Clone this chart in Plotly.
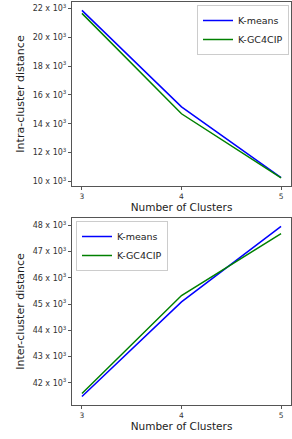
import plotly.graph_objects as go

clusters = [3, 4, 5]
intra_kmeans = [21860, 15170, 10260]
intra_kgc4cip = [21650, 14690, 10250]
inter_kmeans = [41480, 45080, 47950]
inter_kgc4cip = [41600, 45320, 47680]

intra_ticks = [10000, 12000, 14000, 16000, 18000, 20000, 22000]
inter_ticks = [42000, 43000, 44000, 45000, 46000, 47000, 48000]

def tlabel(v):
    return f"{v // 1000} x 10<sup>3</sup>"

W, H = 292, 439
fig = go.Figure()

blue = "#0000ff"
green = "#008000"

fig.add_trace(go.Scatter(x=clusters, y=intra_kmeans, mode="lines", name="K-means",
                         line=dict(color=blue, width=1.5), xaxis="x", yaxis="y", legend="legend"))
fig.add_trace(go.Scatter(x=clusters, y=intra_kgc4cip, mode="lines", name="K-GC4CIP",
                         line=dict(color=green, width=1.5), xaxis="x", yaxis="y", legend="legend"))
fig.add_trace(go.Scatter(x=clusters, y=inter_kmeans, mode="lines", name="K-means",
                         line=dict(color=blue, width=1.5), xaxis="x2", yaxis="y2", legend="legend2"))
fig.add_trace(go.Scatter(x=clusters, y=inter_kgc4cip, mode="lines", name="K-GC4CIP",
                         line=dict(color=green, width=1.5), xaxis="x2", yaxis="y2", legend="legend2"))

def px_x(p):
    return p / W

def px_y(p):
    return 1 - p / H

ytickfont = dict(family="DejaVu Sans", size=8, color="#333333")
xtickfont = dict(family="DejaVu Sans", size=7.5, color="#333333")
xtitlefont = dict(family="DejaVu Sans", size=10.5, color="#222222")
ytitlefont = dict(family="DejaVu Sans", size=11, color="#222222")
legfont = dict(family="DejaVu Sans", size=9.5, color="#222222")

axis_common = dict(showgrid=False, zeroline=False, showline=True, linecolor="#555555",
                   linewidth=1, mirror=True, ticks="outside", ticklen=3, tickcolor="#555555")

fig.update_layout(
    width=W, height=H,
    margin=dict(l=0, r=0, t=0, b=0),
    paper_bgcolor="white", plot_bgcolor="white",
    xaxis=dict(domain=[px_x(72), px_x(291)], range=[2.9, 5.1], tickvals=clusters,
               ticktext=[str(c) for c in clusters], anchor="y", tickfont=xtickfont,
               title=dict(text="Number of Clusters", font=xtitlefont, standoff=2), **axis_common),
    yaxis=dict(domain=[px_y(186), px_y(2)], range=[9680, 22440], tickvals=intra_ticks,
               ticktext=[tlabel(v) for v in intra_ticks], anchor="x", tickfont=ytickfont,
               title=dict(text="Intra-cluster distance", font=ytitlefont, standoff=5), **axis_common),
    xaxis2=dict(domain=[px_x(72), px_x(291)], range=[2.9, 5.1], tickvals=clusters,
                ticktext=[str(c) for c in clusters], anchor="y2", tickfont=xtickfont,
                title=dict(text="Number of Clusters", font=xtitlefont, standoff=2), **axis_common),
    yaxis2=dict(domain=[px_y(405), px_y(218)], range=[41160, 48270], tickvals=inter_ticks,
                ticktext=[tlabel(v) for v in inter_ticks], anchor="x2", tickfont=ytickfont,
                title=dict(text="Inter-cluster distance", font=ytitlefont, standoff=5), **axis_common),
    legend=dict(x=px_x(289), y=px_y(5), xanchor="right", yanchor="top",
                bgcolor="rgba(255,255,255,0.9)", bordercolor="#cccccc", borderwidth=1,
                font=legfont, tracegroupgap=0, itemwidth=30),
    legend2=dict(x=px_x(76), y=px_y(221), xanchor="left", yanchor="top",
                 bgcolor="rgba(255,255,255,0.9)", bordercolor="#cccccc", borderwidth=1,
                 font=legfont, tracegroupgap=0, itemwidth=30),
    showlegend=True,
)

fig.write_html("out.html", config={"displayModeBar": False},
               post_script="document.body.style.margin='0';document.body.style.overflow='hidden';")
